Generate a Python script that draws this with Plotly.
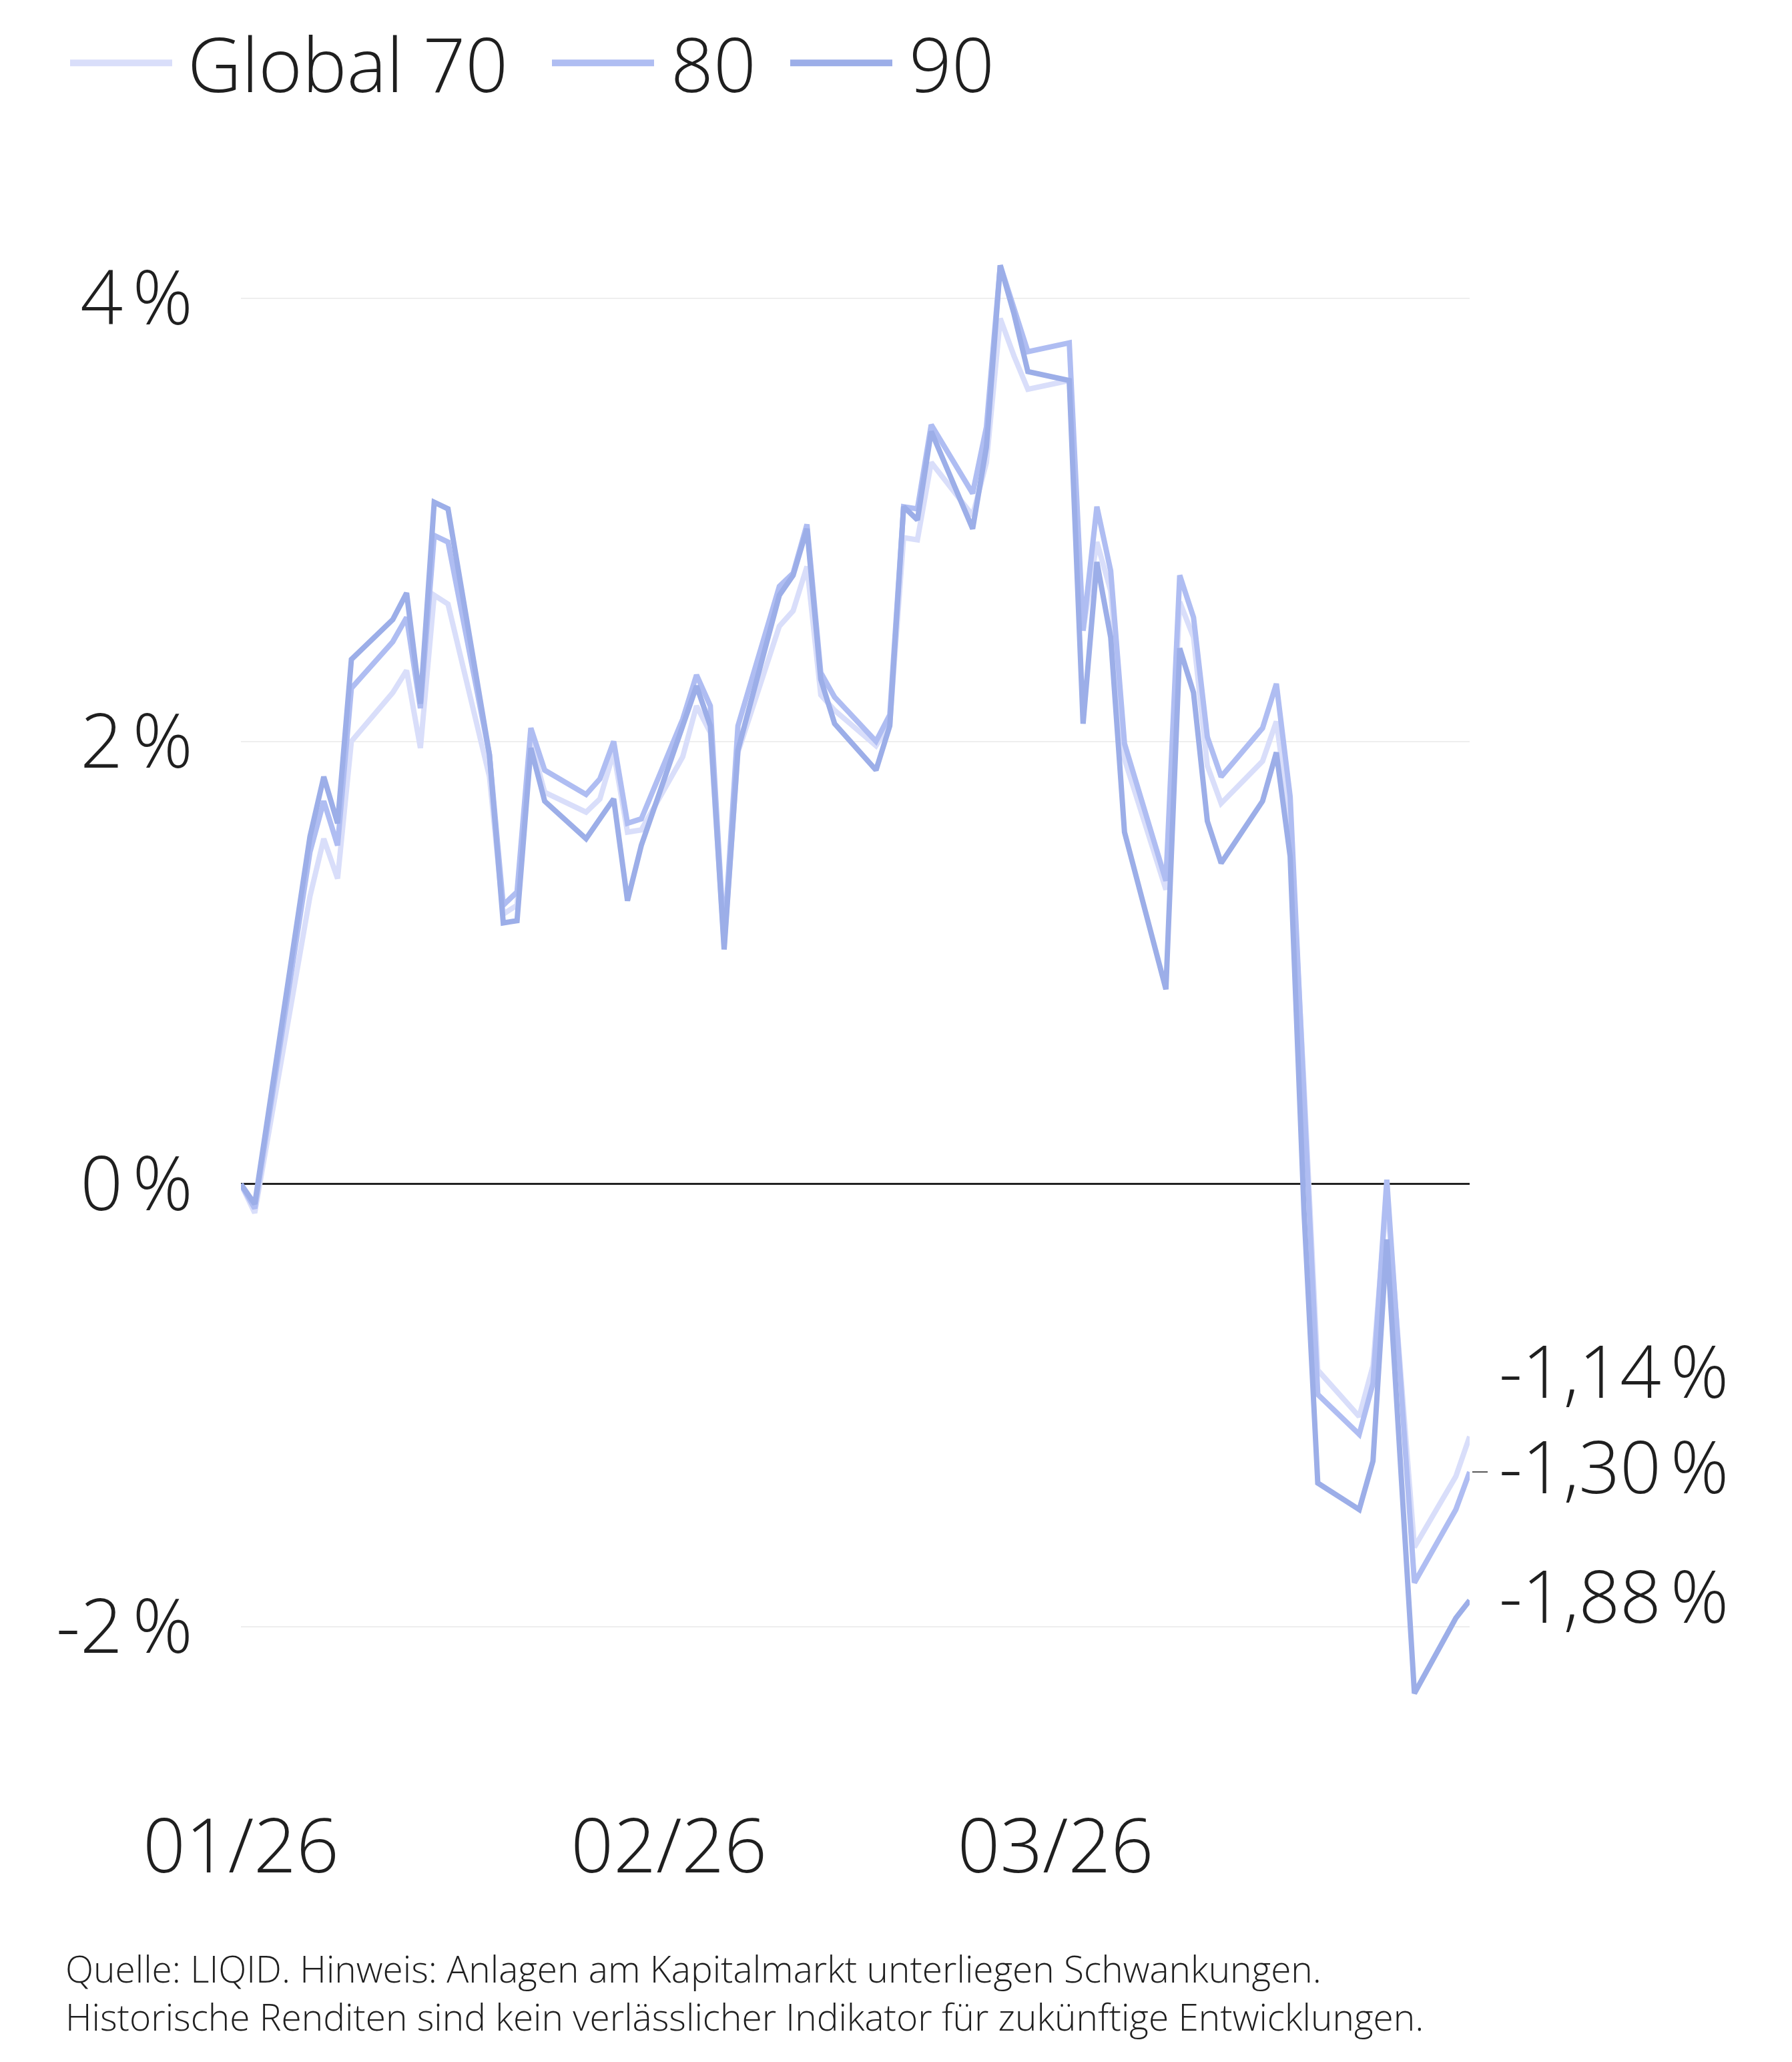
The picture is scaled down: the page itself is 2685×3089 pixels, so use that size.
import plotly.graph_objects as go

# ---------------- data ----------------
dates = [
    "2026-01-01", "2026-01-02", "2026-01-06", "2026-01-07", "2026-01-08", "2026-01-09",
    "2026-01-12", "2026-01-13", "2026-01-14", "2026-01-15", "2026-01-16",
    "2026-01-19", "2026-01-20", "2026-01-21", "2026-01-22", "2026-01-23",
    "2026-01-26", "2026-01-27", "2026-01-28", "2026-01-29", "2026-01-30",
    "2026-02-02", "2026-02-03", "2026-02-04", "2026-02-05", "2026-02-06",
    "2026-02-09", "2026-02-10", "2026-02-11", "2026-02-12", "2026-02-13",
    "2026-02-16", "2026-02-17", "2026-02-18", "2026-02-19", "2026-02-20",
    "2026-02-23", "2026-02-24", "2026-02-25", "2026-02-26", "2026-02-27",
    "2026-03-02", "2026-03-03", "2026-03-04", "2026-03-05", "2026-03-06",
    "2026-03-09", "2026-03-10", "2026-03-11", "2026-03-12", "2026-03-13",
    "2026-03-16", "2026-03-17", "2026-03-18", "2026-03-19", "2026-03-20",
    "2026-03-23", "2026-03-24", "2026-03-25", "2026-03-27", "2026-03-30", "2026-03-31",
]

global70 = [
    0.00, -0.13, 1.30, 1.56, 1.38, 2.00, 2.22, 2.32, 1.97, 2.66, 2.62,
    1.84, 1.22, 1.26, 2.00, 1.77, 1.68, 1.74, 1.95, 1.59, 1.60,
    1.93, 2.16, 2.04, 1.08, 1.95, 2.52, 2.59, 2.79, 2.21, 2.14,
    1.98, 2.08, 2.92, 2.91, 3.26, 3.02, 3.26, 3.91, 3.74, 3.59,
    3.63, 2.50, 2.90, 2.68, 1.92, 1.33, 2.63, 2.47, 1.89, 1.72,
    1.91, 2.09, 1.63, 0.45, -0.84, -1.05, -0.82, -0.05, -1.64, -1.32, -1.14,
]

global80 = [
    0.00, -0.11, 1.50, 1.73, 1.53, 2.24, 2.45, 2.56, 2.15, 2.93, 2.90,
    1.94, 1.26, 1.32, 2.06, 1.87, 1.76, 1.83, 2.00, 1.63, 1.65,
    2.10, 2.30, 2.16, 1.10, 2.07, 2.70, 2.76, 2.98, 2.31, 2.20,
    2.00, 2.12, 3.06, 3.05, 3.43, 3.12, 3.42, 4.15, 3.96, 3.76,
    3.80, 2.50, 3.06, 2.77, 1.99, 1.37, 2.75, 2.56, 2.02, 1.84,
    2.06, 2.26, 1.75, 0.40, -0.95, -1.13, -0.90, 0.02, -1.80, -1.47, -1.30,
]

global90 = [
    0.00, -0.09, 1.57, 1.84, 1.63, 2.37, 2.55, 2.67, 2.17, 3.08, 3.05,
    1.94, 1.18, 1.19, 1.97, 1.73, 1.56, 1.65, 1.74, 1.28, 1.53,
    2.07, 2.25, 2.07, 1.06, 1.96, 2.66, 2.75, 2.96, 2.28, 2.08,
    1.87, 2.07, 3.06, 3.00, 3.40, 2.96, 3.33, 4.15, 3.93, 3.67,
    3.63, 2.08, 2.81, 2.47, 1.59, 0.88, 2.42, 2.22, 1.64, 1.45,
    1.73, 1.95, 1.48, -0.12, -1.35, -1.47, -1.25, -0.25, -2.30, -1.96, -1.88,
]

series_names = ["Global 70", "80", "90"]
series_values = [global70, global80, global90]
series_colors = ["#d9defa", "#afbdf2", "#9caee8"]

PCT = "\u202f%"   # narrow no-break space before the percent sign
y_tickvals = [-2, 0, 2, 4]
y_ticktext = ["-2" + PCT, "0" + PCT, "2" + PCT, "4" + PCT]
x_tickvals = ["2026-01-01", "2026-02-01", "2026-03-01"]
x_ticktext = ["01/26", "02/26", "03/26"]

footer_lines = [
    "Quelle: LIQID. Hinweis: Anlagen am Kapitalmarkt unterliegen Schwankungen.",
    "Historische Renditen sind kein verlässlicher Indikator für zukünftige Entwicklungen.",
]

# ---------------- layout geometry (screen px) ----------------
W, H = 2685, 3089
BODY = 8                      # default page margin of the html body
PL, PR = 361, 2202            # plot area left / right
PT, PB = 297.8, 2685.8        # plot area top / bottom
PW, PH = PR - PL, PB - PT


def px_x(px):
    return (px - PL) / PW


def px_y(py):
    return (PB - py) / PH


FONT = "Open Sans"
WEIGHT = 340
BIG = 112
LABEL = 108
TEXT_COLOR = "#1f1f1f"

fig = go.Figure()
for name, vals, col in zip(series_names, series_values, series_colors):
    fig.add_trace(go.Scatter(
        x=dates, y=vals, name=name, mode="lines",
        line=dict(color=col, width=8, shape="linear"),
        hoverinfo="skip", showlegend=False,
    ))


def fmt(v):
    return f"{v:.2f}".replace(".", ",") + PCT


# ----- custom legend (line sample + text) -----
legend_line_px = [(105, 258), (827, 980), (1184, 1337)]
legend_text_px = [279, 1003, 1360]
LEG_Y = 94
for name, col, (a, b), tx in zip(series_names, series_colors, legend_line_px, legend_text_px):
    fig.add_shape(
        type="line", xref="paper", yref="paper",
        x0=px_x(a), x1=px_x(b), y0=px_y(LEG_Y), y1=px_y(LEG_Y),
        line=dict(color=col, width=10),
    )
    fig.add_annotation(
        x=px_x(tx), xref="paper", xanchor="left",
        y=px_y(LEG_Y), yref="paper", yanchor="middle", yshift=0,
        text=name, showarrow=False,
        font=dict(family=FONT, size=BIG, color=TEXT_COLOR, weight=WEIGHT),
    )

# ----- end labels -----
label_shift = [100, 10, 8]
for vals, shift in zip(series_values, label_shift):
    fig.add_annotation(
        x=px_x(2244), xref="paper", xanchor="left",
        y=vals[-1], yref="y", yanchor="middle", yshift=shift,
        text=fmt(vals[-1]), showarrow=False,
        font=dict(family=FONT, size=LABEL, color=TEXT_COLOR, weight=WEIGHT),
    )

# small leader tick at the 80 label
fig.add_shape(
    type="line", xref="paper", yref="y",
    x0=px_x(2206), x1=px_x(2229), y0=global80[-1], y1=global80[-1],
    line=dict(color="#555555", width=2),
)

# ----- footer (one text block, two lines) -----
fig.add_annotation(
    x=px_x(96), xref="paper", xanchor="left",
    y=px_y(2988), yref="paper", yanchor="middle", yshift=4,
    text="<br>".join(footer_lines), showarrow=False, align="left",
    font=dict(family=FONT, size=55, color=TEXT_COLOR, weight=WEIGHT),
)

fig.update_layout(
    width=W, height=H,
    paper_bgcolor="white", plot_bgcolor="white",
    margin=dict(l=PL - BODY, r=W - PR + BODY, t=PT - BODY, b=H - PB + BODY, pad=0),
    font=dict(family=FONT, color=TEXT_COLOR, weight=WEIGHT),
    showlegend=False,
    xaxis=dict(
        type="date",
        range=["2026-01-01", "2026-03-31"],
        tickvals=x_tickvals, ticktext=x_ticktext,
        showgrid=False, zeroline=False, showline=False,
        ticks="", ticklabelstandoff=6,
        tickfont=dict(family=FONT, size=BIG, color=TEXT_COLOR, weight=WEIGHT),
    ),
    yaxis=dict(
        range=[-2.75, 4.45],
        tickvals=y_tickvals, ticktext=y_ticktext,
        showgrid=True, gridcolor="#eeeeee", gridwidth=2,
        zeroline=True, zerolinecolor="#222222", zerolinewidth=3,
        showline=False, ticks="", ticklabelstandoff=71,
        tickfont=dict(family=FONT, size=BIG, color=TEXT_COLOR, weight=WEIGHT),
    ),
)

fig.write_html("out.html")
